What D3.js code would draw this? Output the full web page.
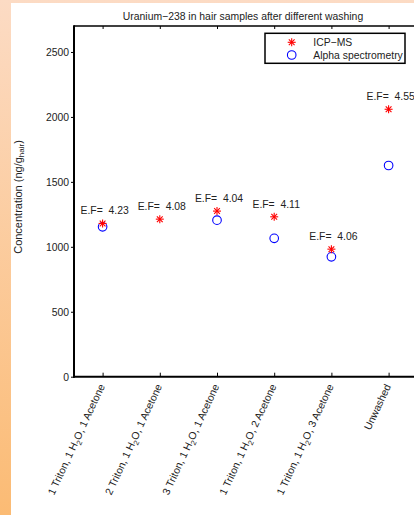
<!DOCTYPE html>
<html><head><meta charset="utf-8">
<script src="https://cdn.jsdelivr.net/npm/d3@7"></script>
<style>
html,body{margin:0;padding:0;overflow:hidden;}
svg{display:block;font-family:"Liberation Sans",Arial,sans-serif;}
</style></head>
<body>
<script>
const categories = ["1 Triton, 1 H2O, 1 Acetone","2 Triton, 1 H2O, 1 Acetone","3 Triton, 1 H2O, 1 Acetone","1 Triton, 1 H2O, 2 Acetone","1 Triton, 1 H2O, 3 Acetone","Unwashed"];
const icpms = [1180, 1213, 1275, 1231, 982, 2059];
const alpha = [1154, null, 1205, 1065, 923, 1626];
const efLabels = ["4.23","4.08","4.04","4.11","4.06","4.55"];
const yTicks = [0, 500, 1000, 1500, 2000, 2500];
const seriesNames = ["ICP\u2212MS", "Alpha spectrometry"];
const title = "Uranium\u2212238 in hair samples after different washing";

const W = 414, H = 515;
const FS = 10.4;
const svg = d3.select("body").append("svg").attr("width", W).attr("height", H);
const defs = svg.append("defs");
const g1 = defs.append("linearGradient").attr("id","bg").attr("x1",0).attr("y1",0).attr("x2",0).attr("y2",1);
g1.append("stop").attr("offset","0%").attr("stop-color","#fcdbc4");
g1.append("stop").attr("offset","100%").attr("stop-color","#fbbb74");
svg.append("rect").attr("width",W).attr("height",H).attr("fill","url(#bg)");
svg.append("rect").attr("x",11).attr("y",3).attr("width",W-11).attr("height",H-3).attr("fill","#fff");

const L = 74, R = 417.2, T = 26, B = 376.7;
const x = d3.scaleLinear().domain([0.5, 6.5]).range([L, R]);
const y = d3.scaleLinear().domain([0, 2700]).range([B, T]);
const idx = d3.range(1, categories.length + 1);

// axes box
const ax = svg.append("g");
ax.append("line").attr("x1",L).attr("x2",R).attr("y1",T).attr("y2",T).attr("stroke","#000").attr("stroke-width",1.5);
ax.append("line").attr("x1",R).attr("x2",R).attr("y1",T).attr("y2",B).attr("stroke","#000").attr("stroke-width",1.5);

// top ticks (inward)
svg.append("g").attr("transform",`translate(0,${T})`)
  .call(d3.axisTop(x).tickValues(idx).tickSize(-3).tickFormat(""))
  .call(g=>{g.select(".domain").remove(); g.selectAll("line").attr("stroke","#000");});
// bottom ticks (inward)
svg.append("g").attr("transform",`translate(0,${B})`)
  .call(d3.axisBottom(x).tickValues(idx).tickSize(-4).tickFormat(""))
  .call(g=>{g.select(".domain").remove(); g.selectAll("line").attr("stroke","#000");});
// right ticks (inward)
svg.append("g").attr("transform",`translate(${R},0)`)
  .call(d3.axisRight(y).tickValues(yTicks).tickSize(-3).tickFormat(""))
  .call(g=>{g.select(".domain").remove(); g.selectAll("line").attr("stroke","#000");});
// left axis
svg.append("g").attr("transform",`translate(${L},0)`)
  .call(d3.axisLeft(y).tickValues(yTicks).tickSize(3).tickPadding(2).tickFormat(d3.format("d")))
  .call(g=>{g.select(".domain").remove();
    g.selectAll("line").attr("stroke","#000");
    g.selectAll("text").attr("font-size",FS).attr("fill","#222").attr("font-family","Liberation Sans, Arial, sans-serif");});

ax.append("line").attr("x1",L).attr("x2",L).attr("y1",T-0.75).attr("y2",B+1).attr("stroke","#000").attr("stroke-width",2);
ax.append("line").attr("x1",L-1).attr("x2",R).attr("y1",B).attr("y2",B).attr("stroke","#000").attr("stroke-width",2);

// title
svg.append("text").attr("x",243).attr("y",19.5).attr("text-anchor","middle").attr("font-size",FS).attr("fill","#222").text(title);

// y label
const yl = svg.append("text").attr("transform",`translate(21.5,197) rotate(-90)`).attr("text-anchor","middle").attr("font-size",11).attr("fill","#222");
yl.append("tspan").text("Concentration (ng/g");
yl.append("tspan").attr("font-size",8).attr("dy",2.5).text("hair");
yl.append("tspan").attr("dy",-2.5).text(")");

// x labels
categories.forEach((c, i) => {
  const t = svg.append("text")
    .attr("transform",`translate(${x(i+1)+2.5},${B+9.5}) rotate(-65)`)
    .attr("text-anchor","end").attr("font-size",FS).attr("fill","#222");
  const parts = c.split("H2O");
  if (parts.length === 2) {
    t.append("tspan").text(parts[0] + "H");
    t.append("tspan").attr("font-size",7.5).attr("dy",3).text("2");
    t.append("tspan").attr("dy",-3).text("O" + parts[1]);
  } else {
    t.text(c);
  }
});

function star(sel, cx, cy, r) {
  const gg = sel.append("g").attr("transform",`translate(${cx},${cy})`).attr("stroke","#ff0000").attr("stroke-width",1.1);
  [[-r,0,r,0],[0,-r,0,r],[-r*0.72,-r*0.72,r*0.72,r*0.72],[-r*0.72,r*0.72,r*0.72,-r*0.72]].forEach(p=>{
    gg.append("line").attr("x1",p[0]).attr("y1",p[1]).attr("x2",p[2]).attr("y2",p[3]);
  });
}

// alpha circles
alpha.forEach((v,i)=>{
  if (v == null) return;
  svg.append("circle").attr("cx",x(i+1)).attr("cy",y(v)).attr("r",4.3).attr("fill","none").attr("stroke","#0000ff").attr("stroke-width",1.1);
});
// icp stars
icpms.forEach((v,i)=>{ star(svg, x(i+1), y(v), 4); });

// EF labels
icpms.forEach((v,i)=>{
  svg.append("text").attr("x",x(i+1)+2).attr("y",y(v)-9).attr("text-anchor","middle").attr("font-size",FS).attr("fill","#222")
    .attr("xml:space","preserve").style("white-space","pre").text("E.F=  " + efLabels[i]);
});

// legend
const lg = svg.append("g");
lg.append("rect").attr("x",265).attr("y",33.3).attr("width",140).attr("height",30).attr("fill","#fff").attr("stroke","#000").attr("stroke-width",1.5);
star(lg, 291.7, 42.3, 4);
lg.append("circle").attr("cx",291.7).attr("cy",55).attr("r",4.3).attr("fill","none").attr("stroke","#0000ff").attr("stroke-width",1.1);
seriesNames.forEach((n,i)=>{
  lg.append("text").attr("x",313.3).attr("y",[42.3,55][i]+3.7).attr("font-size",FS).attr("fill","#222").text(n);
});
</script>
</body></html>
